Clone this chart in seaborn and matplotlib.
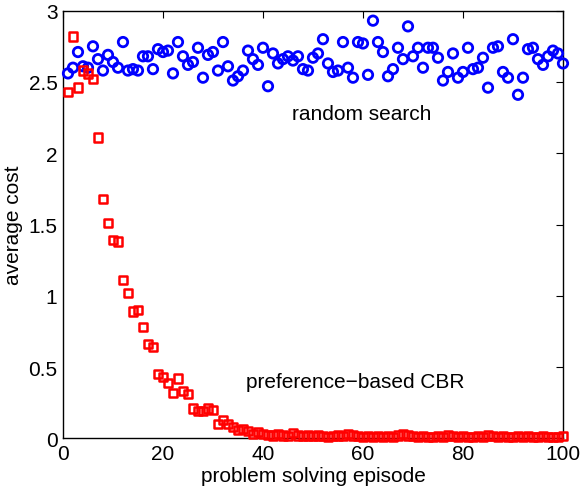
"""Average cost per episode: random search vs preference-based CBR."""

import matplotlib
matplotlib.use("Agg")
import matplotlib.pyplot as plt
import numpy as np
import pandas as pd
import seaborn as sns

sns.set_style("white")
plt.rcParams["font.family"] = ["Liberation Sans", "DejaVu Sans"]
plt.rcParams["text.color"] = "black"
plt.rcParams["axes.labelcolor"] = "black"

episodes = list(range(1, 101))

random_search = [
    2.56, 2.60, 2.71, 2.61, 2.60, 2.75, 2.66, 2.58, 2.69, 2.64,
    2.60, 2.78, 2.58, 2.59, 2.58, 2.68, 2.68, 2.59, 2.73, 2.71,
    2.72, 2.56, 2.78, 2.68, 2.62, 2.64, 2.74, 2.53, 2.69, 2.71,
    2.58, 2.78, 2.61, 2.51, 2.54, 2.58, 2.72, 2.66, 2.62, 2.74,
    2.47, 2.70, 2.63, 2.66, 2.68, 2.65, 2.68, 2.59, 2.58, 2.67,
    2.70, 2.80, 2.63, 2.57, 2.58, 2.78, 2.60, 2.53, 2.78, 2.77,
    2.55, 2.93, 2.78, 2.71, 2.54, 2.59, 2.74, 2.66, 2.89, 2.68,
    2.74, 2.60, 2.74, 2.74, 2.67, 2.51, 2.57, 2.70, 2.53, 2.57,
    2.74, 2.59, 2.60, 2.67, 2.46, 2.74, 2.75, 2.57, 2.53, 2.80,
    2.41, 2.53, 2.73, 2.74, 2.66, 2.62, 2.68, 2.72, 2.70, 2.63,
]

cbr = [
    2.43, 2.82, 2.46, 2.58, 2.56, 2.52, 2.11, 1.68, 1.51, 1.39,
    1.38, 1.11, 1.02, 0.89, 0.90, 0.78, 0.66, 0.64, 0.45, 0.43,
    0.39, 0.32, 0.42, 0.33, 0.31, 0.21, 0.19, 0.19, 0.21, 0.20,
    0.10, 0.13, 0.10, 0.08, 0.06, 0.065, 0.05, 0.03, 0.045, 0.03,
    0.025, 0.02, 0.03, 0.02, 0.015, 0.035, 0.02, 0.015, 0.02, 0.015,
    0.02, 0.015, 0.01, 0.015, 0.02, 0.015, 0.03, 0.02, 0.015, 0.01,
    0.015, 0.01, 0.015, 0.01, 0.015, 0.01, 0.02, 0.03, 0.02, 0.015,
    0.01, 0.015, 0.01, 0.01, 0.015, 0.01, 0.02, 0.015, 0.01, 0.015,
    0.01, 0.01, 0.015, 0.01, 0.02, 0.015, 0.01, 0.015, 0.01, 0.01,
    0.015, 0.01, 0.015, 0.01, 0.01, 0.015, 0.01, 0.01, 0.01, 0.015,
]

df = pd.DataFrame({"episode": episodes, "random": random_search, "cbr": cbr})

fig = plt.figure(figsize=(5.81, 4.89), dpi=100)
ax = fig.add_axes([0.1084, 0.1016, 0.8606, 0.8745])

sns.scatterplot(data=df, x="episode", y="random", marker="o", s=46,
                color="blue", facecolor="none", edgecolor="blue",
                linewidth=2.0, ax=ax, zorder=3, clip_on=False)
sns.scatterplot(data=df, x="episode", y="cbr", marker="s", s=36,
                color="red", facecolor="none", edgecolor="red",
                linewidth=1.8, ax=ax, zorder=4, clip_on=False)

ax.set_xlim(0, 100)
ax.set_ylim(0, 3)
ax.set_xticks(np.arange(0, 101, 20))
ax.set_yticks(np.arange(0, 3.01, 0.5))
ax.set_yticklabels(["0", "0.5", "1", "1.5", "2", "2.5", "3"])
ax.tick_params(direction="in", top=True, right=True, length=5, width=0.8,
               labelsize=15, pad=4, colors="black")
for sp in ax.spines.values():
    sp.set_color("black")
    sp.set_linewidth(1.0)

ax.set_xlabel("problem solving episode", fontsize=15, labelpad=2)
ax.set_ylabel("average cost", fontsize=15, labelpad=4)

ax.text(59.7, 2.28, "random search", fontsize=15, ha="center", va="center")
ax.text(58.4, 0.40, "preference\u2212based CBR", fontsize=15, ha="center", va="center")

fig.savefig("out.png", dpi=100)
